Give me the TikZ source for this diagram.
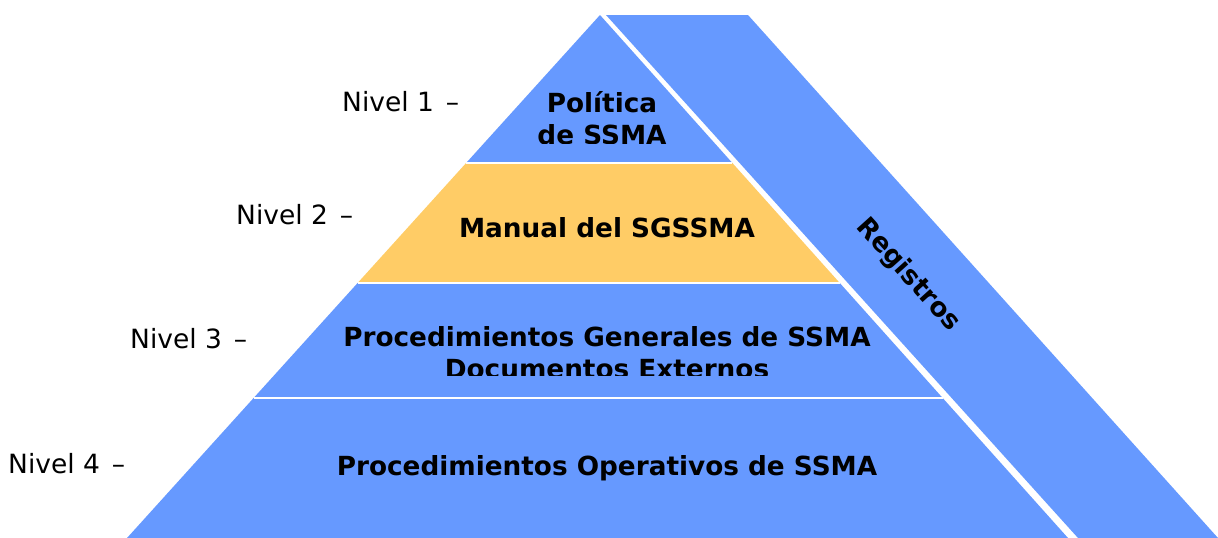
\documentclass[tikz,border=0pt]{standalone}
\usepackage{fontspec}
\setmainfont{DejaVu Sans}
\definecolor{pyrblue}{HTML}{6699FF}
\definecolor{pyrorange}{HTML}{FFCC66}
\tikzset{
  levelfill/.style={fill=pyrblue, draw=none},
  sepline/.style={draw=white, line width=2pt},
  boldtxt/.style={font=\fontsize{26.3}{32}\selectfont\bfseries, inner sep=0pt, anchor=base},
  niveltxt/.style={font=\fontsize{26.5}{32}\selectfont, inner sep=0pt, anchor=base west},
}
\begin{document}
\begin{tikzpicture}[x=1pt,y=-1pt]
\useasboundingbox (0,0) rectangle (1218,538);
% pyramid levels
\fill[pyrblue] (600,15) -- (732.4,163) -- (466.1,163) -- cycle;
\fill[pyrorange] (466.1,163) -- (732.4,163) -- (839.8,283) -- (357.6,283) -- cycle;
\fill[pyrblue] (357.6,283) -- (839.8,283) -- (942.7,398) -- (253.6,398) -- cycle;
\fill[pyrblue] (253.6,398) -- (942.7,398) -- (1068,538) -- (127,538) -- cycle;
% separators
\draw[sepline] (466.1,163) -- (732.4,163);
\draw[sepline] (357.6,283) -- (839.8,283);
\draw[sepline] (253.6,398) -- (942.7,398);
% registros strip
\fill[pyrblue] (606,15) -- (748,15) -- (1218,538) -- (1078,538) -- cycle;
% texts
\begin{scope}
\clip (0,0) rectangle (1218,143);
\node[boldtxt] (pol1) at (602,112) {Política};
\node[boldtxt] (pol2) at (602,144) {de SSMA};
\end{scope}
\node[boldtxt] (man) at (607,237) {Manual del SGSSMA};
\begin{scope}
\clip (0,0) rectangle (1218,375);
\node[boldtxt] (gen1) at (607,346) {Procedimientos Generales de SSMA};
\node[boldtxt] (gen2) at (607,378) {Documentos Externos};
\end{scope}
\node[boldtxt] (ope) at (607,475) {Procedimientos Operativos de SSMA};
\node[boldtxt, anchor=center, rotate=-48] (reg) at (908,275) {Registros};
% nivel labels
\node[niveltxt] (n1) at (342,111) {Nivel 1\hspace{0.45em}–};
\node[niveltxt] (n2) at (236,224) {Nivel 2\hspace{0.45em}–};
\node[niveltxt] (n3) at (130,348) {Nivel 3\hspace{0.45em}–};
\node[niveltxt] (n4) at (8,473) {Nivel 4\hspace{0.45em}–};
\end{tikzpicture}
\end{document}
